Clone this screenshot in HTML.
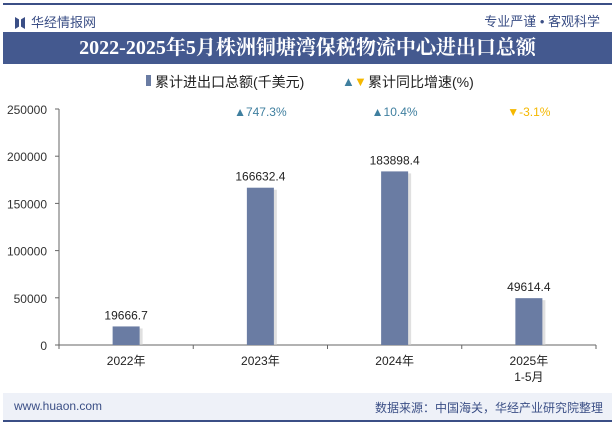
<!DOCTYPE html>
<html><head><meta charset="utf-8"><style>
body{margin:0;width:615px;height:427px;overflow:hidden;background:#fff;font-family:"Liberation Sans","Noto Sans CJK SC",sans-serif;position:relative}
.a{position:absolute}
</style></head><body>
<div class="a" style="left:3px;top:3px;width:609px;height:2px;background:#3b4f86"></div>
<div class="a" style="left:15px;top:12px;font-size:13px;color:#3b4f86"><span style="display:inline-block;width:10px;height:12px;background:#3b4f86;vertical-align:-2px;margin-right:6px;clip-path:polygon(0 0,40% 20%,40% 80%,0 100%,0 0,100% 0,100% 100%,60% 80%,60% 20%,100% 0)"></span>华经情报网</div>
<div class="a" style="right:15px;top:11px;font-size:13px;color:#3b4f86">专业严谨 • 客观科学</div>
<div class="a" style="left:3px;top:32px;width:609px;height:32px;background:#44598f;color:#fff;font-family:'Liberation Serif','Noto Serif CJK SC',serif;font-weight:bold;font-size:20px;text-align:center;line-height:32px">2022-2025年5月株洲铜塘湾保税物流中心进出口总额</div>
<div class="a" style="left:3px;top:393px;width:609px;height:27px;background:#eef1f8"></div>
<div class="a" style="left:3px;top:420px;width:609px;height:2px;background:#3b4f86"></div>
<div class="a" style="left:14px;top:399px;font-size:12px;color:#3b4f86">www.huaon.com</div>
<div class="a" style="right:12px;top:399px;font-size:12px;color:#3b4f86">数据来源：中国海关，华经产业研究院整理</div>
<svg class="a" style="left:0;top:0" width="615" height="427" id="chart"></svg>
<script>
const categories=["2022年","2023年","2024年","2025年\n1-5月"];
const values=[19666.7,166632.4,183898.4,49614.4];
const valueLabels=["19666.7","166632.4","183898.4","49614.4"];
const growth=[null,747.3,10.4,-3.1];
const growthLabels=["","747.3%","10.4%","-3.1%"];
const yTicks=[0,50000,100000,150000,200000,250000];
const ns="http://www.w3.org/2000/svg",svg=document.getElementById("chart");
const x0=59,x1=596,y0=345,yTop=109,yMax=250000;
const bw=(x1-x0)/categories.length;
const ys=v=>y0-(v/yMax)*(y0-yTop);
const xc=i=>x0+bw*(i+0.5);
function el(t,a,txt){const e=document.createElementNS(ns,t);for(const k in a)e.setAttribute(k,a[k]);if(txt!=null)e.textContent=txt;svg.appendChild(e);return e;}
let e=el("line",{x1:x0,y1:y0,x2:x1,y2:y0,stroke:"#666"});


e=el("line",{x1:x0,y1:yTop,x2:x0,y2:y0,stroke:"#666"});


yTicks.forEach(v=>{const t=el("text",{x:47,y:ys(v)+5,"text-anchor":"end","font-size":12,fill:"#333"},v);


el("line",{x1:x0-4,y1:ys(v),x2:x0,y2:ys(v),stroke:"#666"});});
for(let i=0;i<=categories.length;i++)el("line",{x1:x0+bw*i,y1:y0,x2:x0+bw*i,y2:y0+4,stroke:"#666"});
categories.forEach((c,i)=>{
 const cx=xc(i),y=ys(values[i]);
 el("rect",{x:cx-13.5+3,y:y+2,width:27,height:y0-y-2,fill:"#ccc",opacity:0.6});
 const r=el("rect",{x:cx-13.5,y:y,width:27,height:y0-y,fill:"#6a7ca3"});
 
 
 const vl=el("text",{x:cx,y:y-7,"text-anchor":"middle","font-size":12,fill:"#222"},valueLabels[i]);
 
 
 c.split("\n").forEach((ln,j)=>{const t=el("text",{x:cx,y:365+j*16,"text-anchor":"middle","font-size":12,fill:"#222"},ln);
 
 });
 if(growth[i]!=null){const up=growth[i]>=0;
 const g=el("text",{x:cx,y:116,"text-anchor":"middle","font-size":12,fill:up?"#3f7f9f":"#f5b800"},(up?"▲":"▼")+growthLabels[i]);
 
 }
});
let lg=el("rect",{x:146,y:75,width:5,height:11,fill:"#6a7ca3"});


lg=el("text",{x:155,y:87,"font-size":14,fill:"#222"},"累计进出口总额(千美元)");


lg=el("text",{x:342,y:86,"font-size":13,fill:"#3f7f9f"},"▲");


lg=el("text",{x:354,y:86,"font-size":13,fill:"#f5b800"},"▼");


lg=el("text",{x:368,y:87,"font-size":14,fill:"#222"},"累计同比增速(%)");


</script>
</body></html>
